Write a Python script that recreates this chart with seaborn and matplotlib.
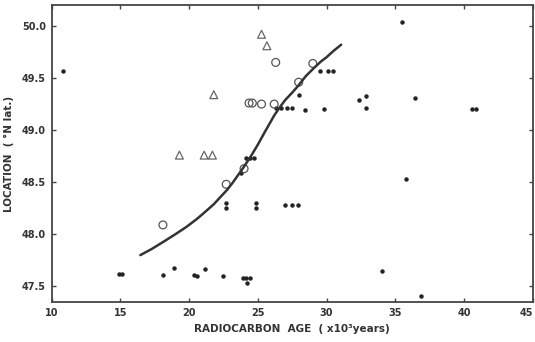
import matplotlib
matplotlib.use("Agg")
import matplotlib.pyplot as plt
import seaborn as sns

# ---- data ----
dot_age = [10.8, 14.9, 15.15, 18.1, 18.9, 20.35, 20.6, 21.15, 22.5,
           23.9, 24.15, 24.4, 24.2,
           22.66, 22.66, 24.85, 24.85, 26.97, 27.46, 27.94,
           23.76, 24.12, 24.4, 24.73,
           26.3, 26.7, 27.1, 27.5, 28.45, 29.8, 28.0,
           29.5, 30.1, 30.45, 35.5, 32.35, 32.9, 32.85, 36.4,
           40.55, 40.85, 35.8, 34.05, 36.9]
dot_lat = [49.57, 47.62, 47.62, 47.61, 47.68, 47.61, 47.60, 47.67, 47.60,
           47.58, 47.58, 47.58, 47.53,
           48.30, 48.25, 48.30, 48.25, 48.28, 48.28, 48.28,
           48.59, 48.73, 48.73, 48.73,
           49.21, 49.21, 49.21, 49.21, 49.19, 49.20, 49.34,
           49.57, 49.57, 49.57, 50.04, 49.29, 49.33, 49.21, 49.31,
           49.20, 49.20, 48.53, 47.65, 47.41]

circle_age = [18.1, 22.7, 24.0, 24.36, 24.6, 25.27, 26.19, 26.3, 27.97, 29.0]
circle_lat = [48.09, 48.48, 48.63, 49.26, 49.26, 49.25, 49.25, 49.65, 49.46, 49.64]

tri_age = [19.3, 21.1, 21.7, 21.8, 25.27, 25.66]
tri_lat = [48.76, 48.76, 48.76, 49.34, 49.92, 49.81]

curve_age = [16.46, 17.3, 18.16, 19.0, 19.8, 20.6, 21.3, 21.81, 22.3, 22.79,
             23.2, 23.52, 24.0, 24.5, 25.0, 25.5, 26.19, 26.6, 27.0, 27.5,
             27.9, 28.5, 29.11, 29.6, 30.0, 30.5, 31.06]
curve_lat = [47.80, 47.86, 47.93, 48.00, 48.07, 48.15, 48.23, 48.29, 48.36, 48.43,
             48.50, 48.56, 48.65, 48.75, 48.86, 48.98, 49.14, 49.22, 49.29, 49.36,
             49.42, 49.52, 49.60, 49.66, 49.70, 49.76, 49.82]

x_ticks = [10, 15, 20, 25, 30, 35, 40, 45]
y_ticks = [47.5, 48.0, 48.5, 49.0, 49.5, 50.0]

# ---- plotting ----
sns.set_style("ticks")
plt.rcParams['font.family'] = ['DejaVu Sans']

fig = plt.figure(figsize=(5.35, 3.42), dpi=100)
ax = fig.add_axes([0.0963, 0.117, 0.8997, 0.868])

sns.lineplot(x=curve_age, y=curve_lat, ax=ax, color="#333333", lw=1.8,
             sort=False, estimator=None)
sns.scatterplot(x=dot_age, y=dot_lat, ax=ax, marker="o", s=8,
                color="#222222", edgecolor="#222222", linewidth=0.3)
sns.scatterplot(x=circle_age, y=circle_lat, ax=ax, marker="o", s=32,
                facecolors="none", edgecolors="#555555", linewidth=0.9)
sns.scatterplot(x=tri_age, y=tri_lat, ax=ax, marker="^", s=32,
                facecolors="none", edgecolors="#666666", linewidth=0.9)

ax.set_xlim(10, 45)
ax.set_ylim(47.35, 50.2)
ax.set_xticks(x_ticks)
ax.set_yticks(y_ticks)
ax.set_xticklabels([str(t) for t in x_ticks], fontsize=7, fontweight="bold", color="#333333")
ax.set_yticklabels([f"{t:.1f}" for t in y_ticks], fontsize=7, fontweight="bold", color="#333333")
ax.get_xticklabels()[-1].set_horizontalalignment("right")
ax.tick_params(direction="in", length=3, width=1, colors="#444444",
               top=True, right=True, labelcolor="#333333", pad=4)

for sp in ax.spines.values():
    sp.set_visible(True)
    sp.set_linewidth(1.3)
    sp.set_color("#444444")

ax.set_xlabel("RADIOCARBON  AGE  ( x10³years)", fontsize=7.5, fontweight="bold",
              color="#333333", labelpad=5)
ax.set_ylabel("LOCATION  ( °N lat.)", fontsize=7.5, fontweight="bold",
              color="#333333", labelpad=6)

fig.savefig("out.png", dpi=100, facecolor="white")
